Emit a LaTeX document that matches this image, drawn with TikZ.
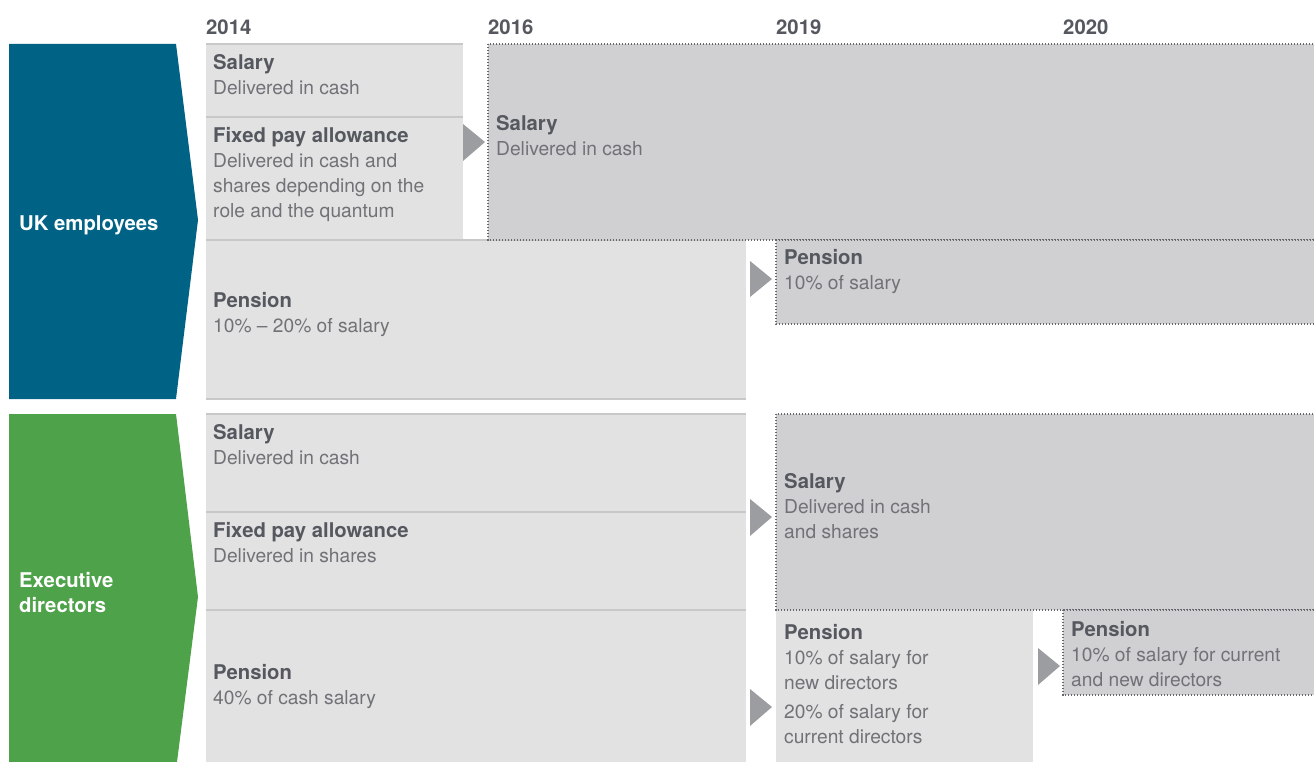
\documentclass[tikz,border=0pt]{standalone}
\usepackage{fontspec}
\setmainfont{TeX Gyre Heros}
\definecolor{ukblue}{HTML}{006385}
\definecolor{exgreen}{HTML}{4EA249}
\definecolor{lightfill}{HTML}{E2E2E2}
\definecolor{darkfill}{HTML}{D0D0D2}
\definecolor{dotc}{HTML}{66676C}
\definecolor{sepc}{HTML}{C8C8C8}
\definecolor{tric}{HTML}{9C9DA1}
\definecolor{headc}{HTML}{55585F}
\definecolor{bodyc}{HTML}{707277}
\newcommand{\hdtxt}[1]{{\color{headc}\fontsize{20.3}{25}\selectfont\bfseries #1}}
\newcommand{\blk}[1]{\begin{tabular}[t]{@{}l@{}}#1\end{tabular}}
\tikzset{
  lightbox/.style={fill=lightfill, draw=none},
  darkbox/.style={fill=darkfill, draw=dotc, line width=1.2pt, dash pattern=on 1.2pt off 1.8pt},
  sepline/.style={draw=sepc, line width=1.3pt},
  tri/.style={fill=tric, draw=none},
  lbl/.style={anchor=base west, inner sep=0pt, text=bodyc, font=\fontsize{19.2}{25}\selectfont},
  yr/.style={anchor=base west, inner sep=0pt, text=headc, font=\fontsize{20.3}{25}\selectfont\bfseries},
  banner/.style={anchor=base west, inner sep=0pt, text=white, font=\fontsize{20.3}{25}\selectfont\bfseries},
}
\begin{document}
\begin{tikzpicture}[x=1pt, y=-1pt]
\useasboundingbox (0,0) rectangle (1314,762);
\clip (0,0) rectangle (1314,762);

% banners
\fill[ukblue] (9,44) -- (176,44) -- (198,220) -- (176,399) -- (9,399) -- cycle;
\fill[exgreen] (9,414) -- (176,414) -- (198,597) -- (177,762) -- (9,762) -- cycle;
\node[banner] (uk) at (19,230) {UK employees};
\node[banner] (ex) at (19,587) {\blk{Executive\\directors}};

% years
\node[yr] (y2014) at (206,35) {2014};
\node[yr] (y2016) at (488,35) {2016};
\node[yr] (y2019) at (776,35) {2019};
\node[yr] (y2020) at (1063,35) {2020};

% UK light boxes
\fill[lightbox] (206,44) rectangle (463,240);
\fill[lightbox] (206,240) rectangle (746,399);
\draw[sepline] (206,44) -- (463,44);
\draw[sepline] (206,117) -- (463,117);
\draw[sepline] (206,240) -- (746,240);
\draw[sepline] (206,399) -- (746,399);

% UK dark boxes
\draw[darkbox] (488,44) rectangle (1330,240);
\draw[darkbox] (776,240) rectangle (1330,324);

% Exec light boxes
\fill[lightbox] (206,414) rectangle (746,762);
\fill[lightbox] (776,610) rectangle (1033,762);
\draw[sepline] (206,414) -- (746,414);
\draw[sepline] (206,512) -- (746,512);
\draw[sepline] (206,610) -- (746,610);

% Exec dark boxes
\draw[darkbox] (776,414) rectangle (1330,610);
\draw[darkbox] (1063,610) rectangle (1330,695);

% triangles
\fill[tri] (463,124) -- (485,142) -- (463,161) -- cycle;
\fill[tri] (750,261) -- (772,279) -- (750,297) -- cycle;
\fill[tri] (750,499) -- (772,517) -- (750,536) -- cycle;
\fill[tri] (750,689) -- (772,707) -- (750,726) -- cycle;
\fill[tri] (1038,648) -- (1060,666) -- (1038,685) -- cycle;

% texts UK
\node[lbl] (uksal14) at (213,70) {\blk{\hdtxt{Salary}\\Delivered in cash}};
\node[lbl] (ukfpa14) at (213,143) {\blk{\hdtxt{Fixed pay allowance}\\Delivered in cash and\\shares depending on the\\role and the quantum}};
\node[lbl] (uksal16) at (496,131) {\blk{\hdtxt{Salary}\\Delivered in cash}};
\node[lbl] (ukpen14) at (213,307) {\blk{\hdtxt{Pension}\\10\% -- 20\% of salary}};
\node[lbl] (ukpen19) at (784,264) {\blk{\hdtxt{Pension}\\10\% of salary}};

% texts Exec
\node[lbl] (exsal14) at (213,439) {\blk{\hdtxt{Salary}\\Delivered in cash}};
\node[lbl] (exfpa14) at (213,537) {\blk{\hdtxt{Fixed pay allowance}\\Delivered in shares}};
\node[lbl] (expen14) at (213,679) {\blk{\hdtxt{Pension}\\40\% of cash salary}};
\node[lbl] (exsal19) at (784,488) {\blk{\hdtxt{Salary}\\Delivered in cash\\and shares}};
\node[lbl] (expen19) at (784,639) {\blk{\hdtxt{Pension}\\10\% of salary for\\new directors\\[4pt]20\% of salary for\\current directors}};
\node[lbl] (expen20) at (1071,636) {\blk{\hdtxt{Pension}\\10\% of salary for current\\and new directors}};
\end{tikzpicture}
\end{document}
